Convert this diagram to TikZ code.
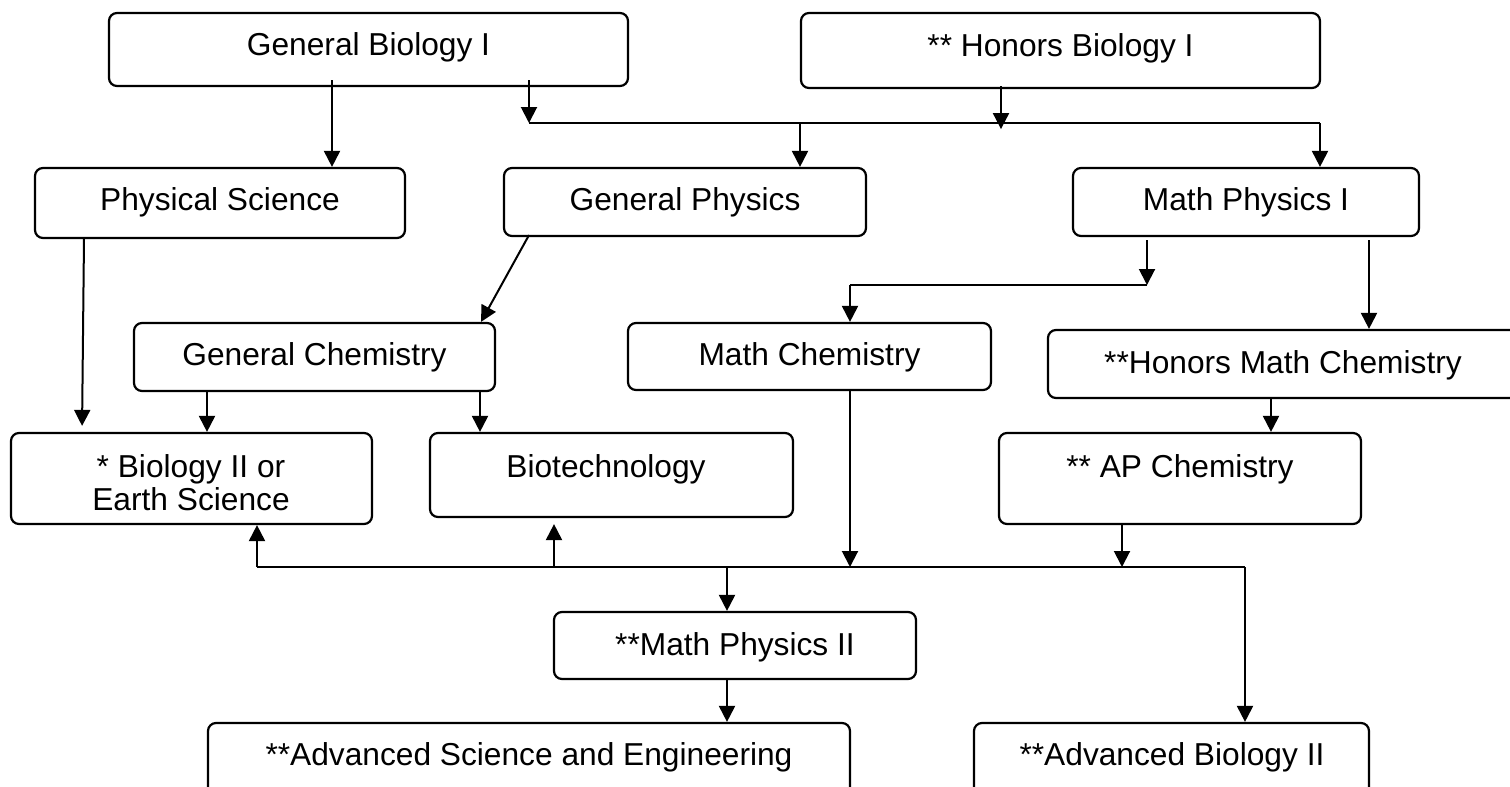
\documentclass[tikz,border=0pt]{standalone}
\usepackage{fontspec}
\setmainfont{Liberation Sans}
\usetikzlibrary{arrows.meta}
\begin{document}
\begin{tikzpicture}[x=1pt,y=-1pt,
  box/.style={draw,line width=2.2pt,rounded corners=8pt,inner sep=0pt,minimum width=#1},
  lbl/.style={anchor=base,inner sep=0pt,font=\fontsize{31.7}{38}\selectfont},
  conn/.style={line width=2pt},
  arr/.style={line width=2pt,-{Triangle[length=16pt,width=16pt]}}]
\useasboundingbox (0,0) rectangle (1510,787);
\clip (0,0) rectangle (1510,787);
% boxes
\node[box=519pt,minimum height=73pt] (gb) at (368.5,49.5) {};
\node[box=519pt,minimum height=75pt] (hb) at (1060.5,50.5) {};
\node[box=370pt,minimum height=70pt] (ps) at (220,203) {};
\node[box=362pt,minimum height=68pt] (gp) at (685,202) {};
\node[box=346pt,minimum height=68pt] (mp1) at (1246,202) {};
\node[box=361pt,minimum height=68pt] (gc) at (314.5,357) {};
\node[box=363pt,minimum height=67pt] (mc) at (809.5,356.5) {};
\node[box=482pt,minimum height=68pt] (hmc) at (1289,364) {};
\node[box=361pt,minimum height=91pt] (b2) at (191.5,478.5) {};
\node[box=363pt,minimum height=84pt] (bt) at (611.5,475) {};
\node[box=362pt,minimum height=91pt] (ap) at (1180,478.5) {};
\node[box=362pt,minimum height=67pt] (mp2) at (735,645.5) {};
\node[box=642pt,minimum height=87pt] (as) at (529,766.5) {};
\node[box=395pt,minimum height=87pt] (ab) at (1171.5,766.5) {};
% labels
\node[lbl] (tgb) at (368.5,55) {General Biology I};
\node[lbl] (thb) at (1060.5,56) {** Honors Biology I};
\node[lbl] (tps) at (220,210) {Physical Science};
\node[lbl] (tgp) at (685,210) {General Physics};
\node[lbl] (tmp1) at (1246,210) {Math Physics I};
\node[lbl] (tgc) at (314.5,365) {General Chemistry};
\node[lbl] (tmc) at (809.5,365) {Math Chemistry};
\node[lbl] (thmc) at (1283,373) {**Honors Math Chemistry};
\node[lbl] (tb2a) at (191,477) {* Biology II or};
\node[lbl] (tb2b) at (191,510) {Earth Science};
\node[lbl] (tbt) at (606,477) {Biotechnology};
\node[lbl] (tap) at (1180,477) {** AP Chemistry};
\node[lbl] (tmp2) at (735,655) {**Math Physics II};
\node[lbl] (tas) at (529,765) {**Advanced Science and Engineering};
\node[lbl] (tab) at (1172,765) {**Advanced Biology II};
% junction coordinates
\coordinate (j1) at (529,123);
\coordinate (j1r) at (1320,123);
\coordinate (j2) at (1147,285);
\coordinate (j2l) at (850,285);
\coordinate (j3l) at (257,567);
\coordinate (j3r) at (1245,567);
% connectors
\draw[arr] ([xshift=-36.5pt,yshift=7pt]gb.south) -- ([xshift=112pt]ps.north);
\draw[arr] ([xshift=160.5pt,yshift=7pt]gb.south) -- (j1);
\draw[arr] ([xshift=-59.5pt,yshift=3pt]hb.south) -- ([xshift=-59.5pt,yshift=-40pt]hb.south);
\draw[conn] (j1) -- (j1r);
\draw[arr] (j1r) -- (j1r |- mp1.north);
\draw[arr] ([xshift=115pt]gp.north |- j1) -- ([xshift=115pt]gp.north);
\draw[arr] ([xshift=-156pt,yshift=2pt]gp.south) -- ([xshift=166.5pt]gc.north);
\draw[arr,shorten >=6pt] ([xshift=-136pt]ps.south) -- ([xshift=-109.5pt]b2.north);
\draw[arr] ([xshift=-99pt,yshift=-3pt]mp1.south) -- (j2);
\draw[conn] (j2) -- (j2l);
\draw[arr] (j2l) -- (j2l |- mc.north);
\draw[arr] ([xshift=123pt,yshift=-3pt]mp1.south) -- ([xshift=80pt]hmc.north);
\draw[arr] ([xshift=-107.5pt]gc.south) -- ([xshift=15.5pt]b2.north);
\draw[arr] ([xshift=165.5pt]gc.south) -- ([xshift=-131.5pt]bt.north);
\draw[arr] ([xshift=-18pt]hmc.south) -- ([xshift=91pt]ap.north);
\draw[arr] ([xshift=40.5pt]mc.south) -- ([xshift=40.5pt]mc.south |- j3l);
\draw[arr] ([xshift=-58pt]ap.south) -- ([xshift=-58pt]ap.south |- j3l);
\draw[conn] (j3l) -- (j3r);
\draw[arr] (j3r) -- (j3r |- ab.north);
\draw[arr] (j3l) -- (j3l |- b2.south);
\draw[arr,shorten >=6pt] ([xshift=-57.5pt]bt.south |- j3l) -- ([xshift=-57.5pt]bt.south);
\draw[arr] ([xshift=-8pt]mp2.north |- j3l) -- ([xshift=-8pt]mp2.north);
\draw[arr] ([xshift=-8pt]mp2.south) -- ([xshift=198pt]as.north);
\end{tikzpicture}
\end{document}
